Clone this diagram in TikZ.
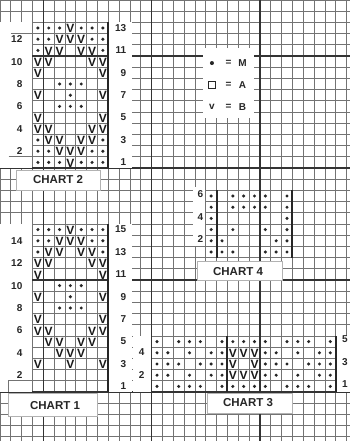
\documentclass[tikz,border=0pt]{standalone}
\usepackage{fontspec}
\setmainfont{Liberation Sans}
\usepackage{tikz}

\begin{document}
\begin{tikzpicture}[x=10.83pt,y=11.2pt,yscale=-1,
  thin grid/.style={draw=black!55, line width=0.7pt},
  heavy grid/.style={draw=black!80, line width=1.6pt},
  chart border/.style={draw=black!85, line width=2pt},
  blank/.style={fill=white, draw=none},
  title box/.style={fill=white, draw=black!30, line width=0.5pt, inner sep=0pt},
  stitch m/.style={circle, fill=black!85, inner sep=0pt, minimum size=3.4pt},
  stitch b/.style={inner sep=0pt, text=black!90, font=\fontsize{12}{12}\selectfont\bfseries},
  row label/.style={inner sep=0.75pt, text=black!85, font=\fontsize{10}{10}\selectfont\bfseries},
  chart title/.style={text=black!85, font=\fontsize{11.5}{12}\selectfont\bfseries}]
\useasboundingbox (0,0) rectangle (32.32,39.375);
\fill[white] (0,0) rectangle (32.32,39.375);

% Graph paper
\foreach \k in {0,...,32} \draw[thin grid] (\k,0) -- (\k,39.375);
\foreach \j in {0,...,39} \draw[thin grid] (0,\j) -- (32.32,\j);
\foreach \k in {4,14,24} \draw[heavy grid] (\k,0) -- (\k,39.375);
\foreach \j in {5,15,25,35} \draw[heavy grid] (0,\j) -- (32.32,\j);

% Strips for the row numbers
\fill[blank] (0,2) rectangle (2.95,15);
\fill[blank] (10,2) rectangle (12.2,15);
\fill[blank] (0,20) rectangle (2.95,35);
\fill[blank] (10,20) rectangle (12.2,35);
\fill[blank] (17.8,16.7) rectangle (18.95,22);
\fill[blank] (12.25,30) rectangle (13.95,35);
\fill[blank] (31,30) rectangle (32.32,35);
\draw[thin grid] (1,3) -- (2.95,3) (0.8,14) -- (2.95,14);
\draw[thin grid] (0.75,34) -- (2.95,34) (0.75,34) -- (0.75,35);

% Chart borders
\draw[chart border] (10,2) -- (10,15);
\draw[chart border] (10,20) -- (10,35);
\draw[chart border] (20,17) -- (20,23) (27,17) -- (27,23);
\draw[chart border] (21,30) -- (21,35) (31,30) -- (31,35);

% Chart 2
\foreach \j/\cols in {2/{3,4,5,7,8,9},3/{3,4,8,9},4/{3,9},7/{5,6,7},8/{6},9/{5,6,7},12/{3,9},13/{3,4,8,9},14/{3,4,5,7,8,9}}
  \foreach \c in \cols \node[stitch m] (m-\c-\j) at (\c+.5,\j+.5) {};
\foreach \j/\cols in {2/{6},3/{5,6,7},4/{4,5,7,8},5/{3,4,8,9},6/{3,9},8/{3,9},10/{3,9},11/{3,4,8,9},12/{4,5,7,8},13/{5,6,7},14/{6}}
  \foreach \c in \cols \node[stitch b] (b-\c-\j) at (\c+.5,\j+.55) {V};
\foreach \n/\j in {12/3,10/5,8/7,6/9,4/11,2/13}
  \node[row label, anchor=east] (lb2-\n) at (2.15,\j+.5) {\n};
\foreach \n/\j in {13/2,11/4,9/6,7/8,5/10,3/12,1/14}
  \node[row label, anchor=east] (rb2-\n) at (11.75,\j+.5) {\n};

% Chart 1
\foreach \j/\cols in {20/{3,4,5,7,8,9},21/{3,4,8,9},22/{3,9},25/{5,6,7},26/{6},27/{5,6,7}}
  \foreach \c in \cols \node[stitch m] (m-\c-\j) at (\c+.5,\j+.5) {};
\foreach \j/\cols in {20/{6},21/{5,6,7},22/{4,5,7,8},23/{3,4,8,9},24/{3,9},26/{3,9},28/{3,9},29/{3,4,8,9},30/{4,5,7,8},31/{5,6,7},32/{3,6,9}}
  \foreach \c in \cols \node[stitch b] (b-\c-\j) at (\c+.5,\j+.55) {V};
\foreach \n/\j in {14/21,12/23,10/25,8/27,6/29,4/31,2/33}
  \node[row label, anchor=east] (lb1-\n) at (2.15,\j+.5) {\n};
\foreach \n/\j in {15/20,13/22,11/24,9/26,7/28,5/30,3/32,1/34}
  \node[row label, anchor=east] (rb1-\n) at (11.75,\j+.5) {\n};

% Chart 4
\foreach \j/\cols in {17/{19,21,22,23,24,26},18/{19,21,22,23,24,26},19/{19,26},20/{19,21,24,26},21/{19,20,25,26},22/{19,20,21,24,25,26}}
  \foreach \c in \cols \node[stitch m] (m-\c-\j) at (\c+.5,\j+.5) {};
\foreach \n/\j in {6/17,4/19,2/21}
  \node[row label, anchor=east] (lb4-\n) at (18.85,\j+.35) {\n};

% Chart 3
\foreach \j/\cols in {30/{14,16,17,18,20,21,22,23,24,26,27,28,30},31/{14,15,17,19,20,24,25,27,29,30},32/{14,15,16,18,19,20,24,25,26,28,29,30},33/{14,15,17,19,20,24,25,27,29,30},34/{14,16,17,18,20,21,22,23,24,26,27,28,30}}
  \foreach \c in \cols \node[stitch m] (m-\c-\j) at (\c+.5,\j+.5) {};
\foreach \j/\cols in {31/{21,22,23},32/{21,23},33/{21,22,23}}
  \foreach \c in \cols \node[stitch b] (b-\c-\j) at (\c+.5,\j+.55) {V};
\foreach \n/\j in {4/31,2/33}
  \node[row label] (lb3-\n) at (13.08,\j+.45) {\n};
\foreach \n/\j in {5/30,3/32,1/34}
  \node[row label] (rb3-\n) at (31.85,\j+.3) {\n};

% Titles
\node[title box, minimum width=84pt, minimum height=20pt] (chart2) at (5.36,16.07) {};
\node[chart title] (chart2-text) at (chart2) {CHART 2};
\node[title box, minimum width=89pt, minimum height=23pt] (chart1) at (4.85,36.1) {};
\node[chart title] (chart1-text) at (5.08,36.25) {CHART 1};
\node[title box, minimum width=85pt, minimum height=19pt] (chart4) at (22.1,24.15) {};
\node[chart title] (chart4-text) at (21.98,24.2) {CHART 4};
\node[title box, minimum width=85pt, minimum height=20pt] (chart3) at (23.04,35.98) {};
\node[chart title] (chart3-text) at (22.9,35.98) {CHART 3};

% Key
\node[blank, minimum width=51pt, minimum height=70pt, inner sep=0pt] (key) at (21.1,7.42) {};
\node[stitch m, minimum size=4pt] (key-m) at (19.57,5.63) {};
\node[draw=black!85, line width=0.6pt, minimum size=7.5pt, inner sep=0pt] (key-a) at (19.57,7.59) {};
\node[row label] (key-b) at (19.57,9.5) {v};
\foreach \s/\t/\j in {m/M/5.63,a/A/7.59,b/B/9.55} {
  \node[row label] (eq-\s) at (21.1,\j) {=};
  \node[row label] (name-\s) at (22.39,\j) {\t};
}
\end{tikzpicture}
\end{document}
